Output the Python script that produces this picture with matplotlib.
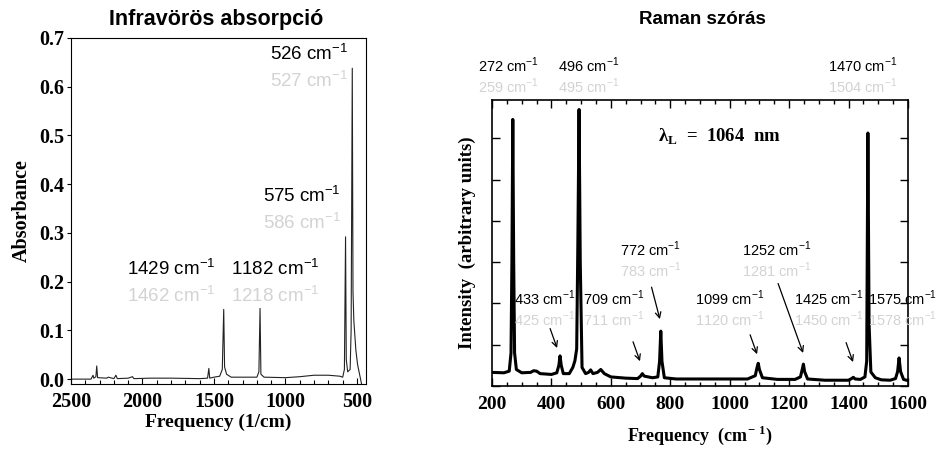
import matplotlib
matplotlib.use('Agg')
import matplotlib.pyplot as plt
from matplotlib.ticker import MultipleLocator

# Infrared absorption spectrum (frequency in 1/cm, absorbance)
ir_freq = [2500, 2360, 2346, 2341, 2326, 2320, 2314, 2250, 2240, 2200, 2186, 2176,
           2100, 2070, 2060, 1950, 1900, 1800, 1600, 1545, 1536, 1530, 1500, 1460,
           1442, 1432, 1426, 1412, 1380, 1300, 1200, 1186, 1178, 1172, 1150, 1000,
           900, 800, 700, 620, 600, 588, 580, 575, 565, 548, 541, 533, 528, 522,
           508, 496, 482, 468]
ir_abs = [0.0, 0.0, 0.008, 0.002, 0.005, 0.027, 0.003, 0.002, 0.004, 0.001, 0.008, 0.001,
          0.002, 0.005, 0.001, 0.002, 0.002, 0.002, 0.001, 0.002, 0.022, 0.002, 0.004, 0.006,
          0.02, 0.143, 0.025, 0.01, 0.004, 0.004, 0.004, 0.015, 0.145, 0.01, 0.004, 0.003,
          0.005, 0.008, 0.008, 0.006, 0.004, 0.02, 0.292, 0.04, 0.015, 0.02,
          0.10, 0.638, 0.18, 0.12, 0.06, 0.03, 0.01, -0.01]

# Raman spectrum (frequency in 1/cm, arbitrary intensity)
raman_freq = [200, 240, 258, 264, 267, 270, 273, 276, 282, 300, 330, 340, 350, 362,
              400, 418, 425, 429, 433, 440, 460, 472, 479, 485, 489, 493, 497, 503,
              515, 525, 532, 540, 555, 566, 578, 600, 650, 690, 700, 706, 712, 740,
              758, 764, 768, 772, 780, 820, 900, 1000, 1060, 1086, 1092, 1096, 1100,
              1110, 1160, 1220, 1238, 1244, 1248, 1252, 1262, 1320, 1400, 1410, 1416,
              1422, 1440, 1455, 1461, 1465, 1469, 1475, 1490, 1510, 1540, 1558, 1565,
              1570, 1575, 1585, 1600]
raman_int = [0.33, 0.32, 0.36, 0.8, 3.0, 6.46, 3.0, 0.8, 0.4, 0.32, 0.33, 0.37, 0.36, 0.3,
             0.28, 0.32, 0.5, 0.73, 0.5, 0.3, 0.3, 0.45, 0.61, 0.9, 3.5, 6.7, 3.0, 0.45,
             0.3, 0.33, 0.39, 0.3, 0.33, 0.40, 0.3, 0.22, 0.19, 0.18, 0.24, 0.30, 0.24, 0.2,
             0.22, 0.6, 1.33, 0.6, 0.2, 0.17, 0.17, 0.17, 0.17, 0.25, 0.45, 0.55, 0.4,
             0.2, 0.16, 0.16, 0.22, 0.4, 0.53, 0.35, 0.17, 0.14, 0.14, 0.18, 0.21,
             0.17, 0.16, 0.22, 0.6, 6.13, 1.5, 0.34, 0.2, 0.15, 0.14, 0.18, 0.35,
             0.68, 0.35, 0.16, 0.13]

# peak labels: black = measured, grey = calculated
ir_labels = [('526', '527'), ('575', '586'), ('1429', '1462'), ('1182', '1218')]
raman_top_labels = [('272', '259'), ('496', '495'), ('1470', '1504')]
raman_mid_labels = [('772', '783'), ('1252', '1281')]
raman_low_labels = [('433', '425'), ('709', '711'), ('1099', '1120'),
                    ('1425', '1450'), ('1575', '1578')]
arrow_freq = [419, 698, 765, 1092, 1247, 1415]
arrow_int = [0.92, 0.60, 1.62, 0.77, 0.80, 0.58]

GREY = '#d3d3d3'
W, H = 941, 449
serif = 'Liberation Serif'
sans = 'Liberation Sans'


def cm(v):
    return v + r' cm$^{\mathregular{-1}}$'


def px_text(fig, x, y, s, **kw):
    fig.text(x / W, 1 - y / H, s, **kw)


def main():
    fig = plt.figure(figsize=(9.41, 4.49), dpi=100)

    # ---- left: IR ----
    ax1 = fig.add_axes([71 / W, 1 - 384 / H, 295 / W, 346 / H])
    ax1.plot(ir_freq, ir_abs, color='#222222', lw=0.8)
    ax1.set_xlim(2500, 437)
    ax1.set_ylim(-0.01, 0.7)
    ax1.xaxis.set_major_locator(MultipleLocator(500))
    ax1.xaxis.set_minor_locator(MultipleLocator(100))
    ax1.yaxis.set_major_locator(MultipleLocator(0.1))
    ax1.tick_params(axis='x', which='both', direction='in', length=3, width=0.8, pad=6)
    ax1.tick_params(axis='x', which='major', length=4)
    ax1.tick_params(axis='y', direction='out', length=3, width=0.8, pad=2)
    ax1.yaxis.set_major_formatter(plt.FuncFormatter(lambda v, p: f'{v:.1f}'))
    for lab in ax1.get_xticklabels() + ax1.get_yticklabels():
        lab.set_fontfamily(serif)
        lab.set_fontweight('bold')
        lab.set_fontsize(14.5)
    ax1.set_xlabel('Frequency (1/cm)', fontfamily=serif, fontweight='bold', fontsize=14, labelpad=1)
    ax1.set_ylabel('Absorbance', fontfamily=serif, fontweight='bold', fontsize=14.5, labelpad=5)
    for sp in ax1.spines.values():
        sp.set_linewidth(0.8)
    fig.text(216 / W, 1 - 19 / H, 'Infravörös absorpció', ha='center', va='center',
             fontfamily=sans, fontweight='bold', fontsize=15.5)

    ir_pos = [(270, 60), (263, 202), (127, 275), (231, 275)]
    for (blk, gry), (x, y) in zip(ir_labels, ir_pos):
        px_text(fig, x, y, cm(blk), fontfamily=sans, fontsize=13.5, color='black', va='baseline')
        px_text(fig, x, y + 27, cm(gry), fontfamily=sans, fontsize=13.5, color=GREY, va='baseline')

    # ---- right: Raman ----
    ax2 = fig.add_axes([492 / W, 1 - 386 / H, 416 / W, 286 / H])
    ax2.plot(raman_freq, raman_int, color='black', lw=2.2)
    ax2.set_xlim(200, 1600)
    ax2.set_ylim(0, 6.93)
    ax2.xaxis.set_major_locator(MultipleLocator(200))
    ax2.xaxis.set_minor_locator(MultipleLocator(50))
    ax2.yaxis.set_major_locator(MultipleLocator(1))
    ax2.set_yticklabels([])
    ax2.tick_params(which='both', direction='in', top=True, right=True, width=1.0)
    ax2.tick_params(which='major', length=6)
    ax2.tick_params(which='minor', length=3)
    ax2.tick_params(axis='x', pad=7)
    for lab in ax2.get_xticklabels():
        lab.set_fontfamily(serif)
        lab.set_fontweight('bold')
        lab.set_fontsize(14)
    ax2.set_xlabel(r'Frequency  (cm$^{\mathregular{-\ 1}}$)', fontfamily=serif, fontweight='bold',
                   fontsize=13, labelpad=8)
    ax2.set_ylabel('Intensity  (arbitrary units)', fontfamily=serif, fontweight='bold',
                   fontsize=13.5, labelpad=8)
    for sp in ax2.spines.values():
        sp.set_linewidth(1.2)
    fig.text(702 / W, 1 - 20 / H, 'Raman szórás', ha='center', va='center',
             fontfamily=sans, fontweight='bold', fontsize=13.5)

    ax2.text(0.40, 0.855, r'λ$_{\mathregular{L}}$  =  1064  nm', transform=ax2.transAxes,
             fontfamily=serif, fontweight='bold', fontsize=13.5, va='baseline')

    fs = 10.5
    top_x = [478, 558, 828]
    for (blk, gry), x in zip(raman_top_labels, top_x):
        px_text(fig, x, 72, cm(blk), fontfamily=sans, fontsize=fs, color='black', va='baseline')
        px_text(fig, x, 93, cm(gry), fontfamily=sans, fontsize=fs, color=GREY, va='baseline')
    mid_x = [620, 742]
    for (blk, gry), x in zip(raman_mid_labels, mid_x):
        px_text(fig, x, 256, cm(blk), fontfamily=sans, fontsize=fs, color='black', va='baseline')
        px_text(fig, x, 277, cm(gry), fontfamily=sans, fontsize=fs, color=GREY, va='baseline')
    low_x = [514, 583, 695, 794, 868]
    for (blk, gry), x in zip(raman_low_labels, low_x):
        px_text(fig, x, 305, cm(blk), fontfamily=sans, fontsize=fs, color='black', va='baseline')
        px_text(fig, x, 326, cm(gry), fontfamily=sans, fontsize=fs, color=GREY, va='baseline')

    # arrows pointing at weak bands; tail offsets in points
    tails = [(-5, 14), (-5, 14), (-6, 23), (-5, 14), (-18, 50), (-5, 14)]
    for fx, iy, (dx, dy) in zip(arrow_freq, arrow_int, tails):
        ax2.annotate('', xy=(fx, iy), xytext=(dx, dy), textcoords='offset points',
                     arrowprops=dict(arrowstyle='->', color='black', lw=0.9,
                                     mutation_scale=10, shrinkA=0, shrinkB=0))

    fig.savefig('out.png', dpi=100)


if __name__ == '__main__':
    main()
